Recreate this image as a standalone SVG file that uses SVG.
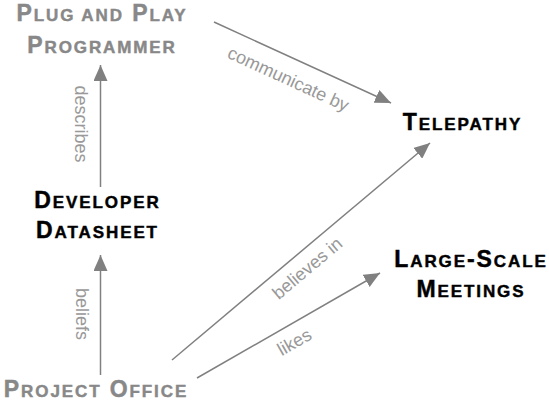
<svg xmlns="http://www.w3.org/2000/svg" width="549" height="403" viewBox="0 0 549 403">
  <style>
    .node { font-family: "Liberation Sans", Arial, sans-serif; font-weight: bold; font-size: 23px; letter-spacing: 1.9px; text-anchor: middle; stroke-width: 0.45; }
    .node .sc { font-size: 17px; }
    .dark { fill: #000000; stroke: #000000; }
    .muted { fill: #888888; stroke: #888888; }
    .edge { stroke: #808080; stroke-width: 1.5; fill: none; marker-end: url(#arrow); }
    .label { font-family: "Liberation Sans", Arial, sans-serif; font-size: 18px; fill: #999999; text-anchor: middle; }
  </style>
  <defs>
    <marker id="arrow" viewBox="0 0 16 14" markerWidth="16" markerHeight="14" refX="16" refY="7" orient="auto" markerUnits="userSpaceOnUse">
      <path d="M0,0 L16,7 L0,14 z" fill="#808080"/>
    </marker>
  </defs>

  <g id="connectors">
    <line class="edge" x1="214" y1="22" x2="391" y2="103"/>
    <line class="edge" x1="100.5" y1="187" x2="100.5" y2="65"/>
    <line class="edge" x1="100.5" y1="375" x2="100.5" y2="255"/>
    <line class="edge" x1="172" y1="360" x2="430" y2="143"/>
    <line class="edge" x1="197" y1="378" x2="380" y2="273"/>
    <text class="label" transform="translate(288,80) rotate(24.6)" y="5">communicate by</text>
    <text class="label" transform="translate(80,124) rotate(90)" y="5">describes</text>
    <text class="label" transform="translate(81,314) rotate(90)" y="5">beliefs</text>
    <text class="label" transform="translate(308,269) rotate(-40)" y="5">believes in</text>
    <text class="label" transform="translate(295,343) rotate(-29.8)" y="5">likes</text>
  </g>

  <g id="plug-and-play-programmer">
    <text class="node muted" x="102" y="21">P<tspan class="sc">LUG AND</tspan> P<tspan class="sc">LAY</tspan></text>
    <text class="node muted" x="102" y="53">P<tspan class="sc">ROGRAMMER</tspan></text>
  </g>
  <g id="developer-datasheet">
    <text class="node dark" x="97.5" y="208">D<tspan class="sc">EVELOPER</tspan></text>
    <text class="node dark" x="97.5" y="238">D<tspan class="sc">ATASHEET</tspan></text>
  </g>
  <g id="project-office">
    <text class="node muted" x="96" y="397">P<tspan class="sc">ROJECT</tspan> O<tspan class="sc">FFICE</tspan></text>
  </g>
  <g id="telepathy">
    <text class="node dark" x="462.5" y="130">T<tspan class="sc">ELEPATHY</tspan></text>
  </g>
  <g id="large-scale-meetings">
    <text class="node dark" x="471" y="267">L<tspan class="sc">ARGE</tspan>-S<tspan class="sc">CALE</tspan></text>
    <text class="node dark" x="471" y="297">M<tspan class="sc">EETINGS</tspan></text>
  </g>
</svg>
